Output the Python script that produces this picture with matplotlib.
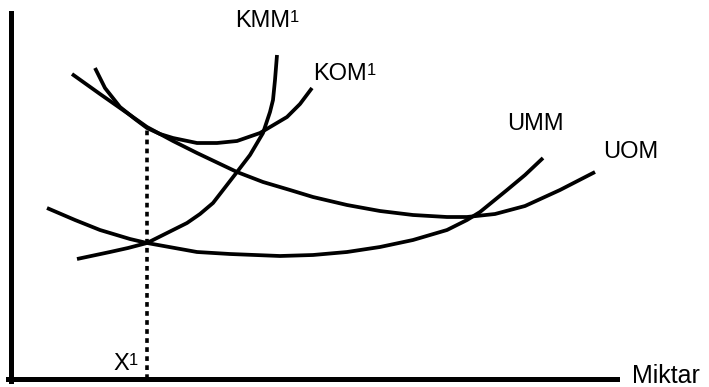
import matplotlib
matplotlib.use('Agg')
import matplotlib.pyplot as plt

plt.rcParams['font.family'] = ['Liberation Sans', 'DejaVu Sans']

# curves (x = miktar, y = maliyet), arbitrary units
uom_x = [61, 89, 119, 136, 162, 186, 226, 252, 279, 302, 336, 369, 402, 436, 456, 484, 514, 549, 584]
uom_y = [305, 285, 264, 252, 238, 226, 207, 197, 189, 182, 174, 168, 164, 162, 162, 165, 173, 189, 207]

umm_x = [36, 64, 89, 119, 136, 186, 219, 269, 302, 336, 369, 402, 436, 456, 469, 496, 514, 532]
umm_y = [171, 159, 149, 140, 136, 127, 125, 123, 124, 127, 132, 139, 149, 159, 167, 189, 204, 221]

kom_x = [84, 94, 109, 124, 136, 149, 162, 186, 206, 226, 249, 276, 289, 301]
kom_y = [311, 291, 272, 260, 251, 245, 241, 236, 236, 238, 246, 262, 275, 291]

kmm_x = [66, 99, 117, 136, 152, 176, 189, 202, 226, 239, 252, 259, 262, 264, 266]
kmm_y = [120, 127, 131, 136, 144, 156, 165, 176, 207, 224, 246, 267, 279, 299, 324]

x1 = 136          # optimum quantity
x1_cost = 252     # where KOM1 touches UOM

labels = ['KMM', 'KOM', 'UMM', 'UOM', 'X']
sups = ['1', '1', '', '', '1']
label_pos = [(224, 352), (302, 299), (496, 249), (592, 221), (102, 9)]

fs = 17
fig = plt.figure(figsize=(7.09, 3.87), dpi=100)
ax = fig.add_axes([0, 0, 1, 1])
ax.set_xlim(-11, 698)
ax.set_ylim(-8, 379)

lw = 2.7
for xs, ys in [(uom_x, uom_y), (umm_x, umm_y), (kom_x, kom_y), (kmm_x, kmm_y)]:
    ax.plot(xs, ys, color='black', lw=lw, solid_capstyle='butt', solid_joinstyle='round')

ax.plot([x1, x1], [0, x1_cost], color='black', lw=2.6, linestyle=(0, (1.3, 1.2)))

renderer = fig.canvas.get_renderer()
for txt, sup, (tx, ty) in zip(labels, sups, label_pos):
    t = ax.text(tx, ty, txt, fontsize=fs, ha='left', va='baseline')
    if sup:
        bb = t.get_window_extent(renderer)
        right = ax.transData.inverted().transform((bb.x1, bb.y0))[0]
        ax.annotate(sup, xy=(right, ty), xytext=(0, 0.72 * fs), textcoords='offset points',
                    fontsize=12, ha='left', va='top')
ax.text(621, -4, 'Miktar', fontsize=fs + 1, ha='left', va='baseline')

for s in ['top', 'right']:
    ax.spines[s].set_visible(False)
ax.spines['left'].set_position(('data', 0))
ax.spines['bottom'].set_position(('data', 0))
ax.spines['left'].set_bounds(-2, 366)
ax.spines['bottom'].set_bounds(-3, 606)
ax.spines['left'].set_linewidth(3.6)
ax.spines['bottom'].set_linewidth(3.6)
ax.set_xticks([])
ax.set_yticks([])
ax.patch.set_alpha(0)

fig.savefig('out.png', dpi=100, facecolor='white')
